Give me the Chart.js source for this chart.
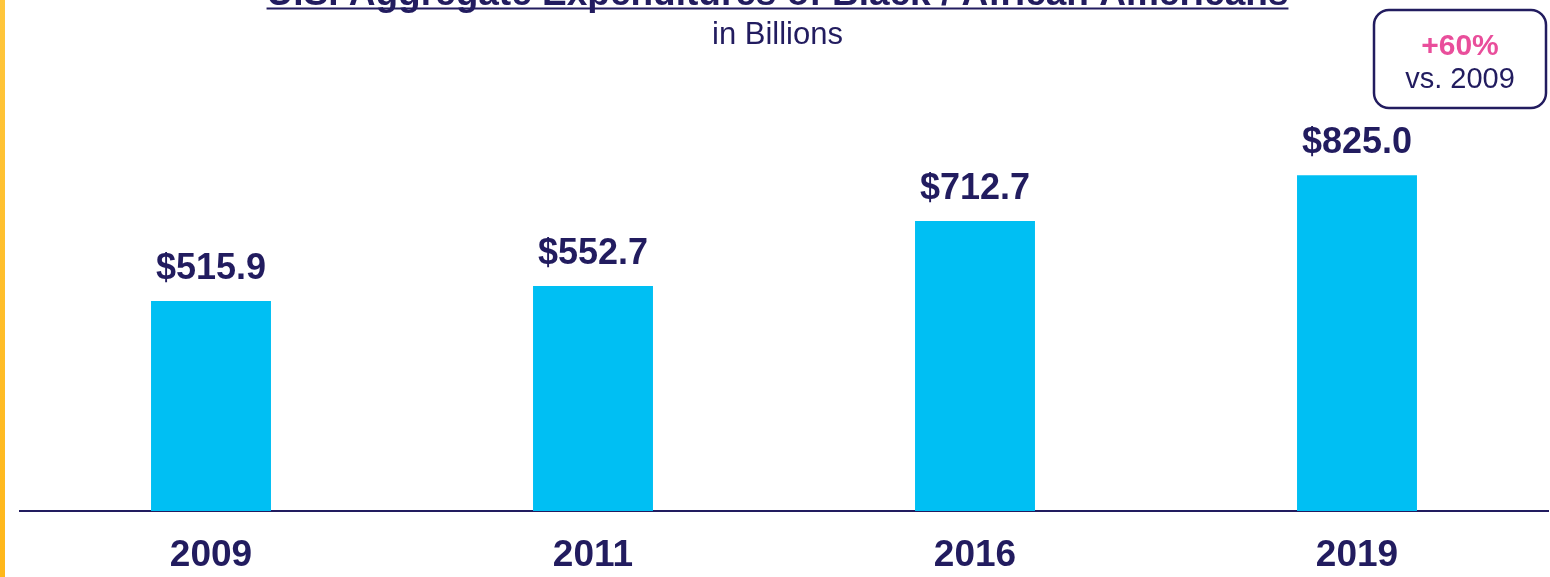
<!DOCTYPE html>
<html>
<head>
<meta charset="utf-8">
<title>Aggregate Expenditures</title>
<script src="https://cdn.jsdelivr.net/npm/chart.js@4"></script>
<style>
  html, body { margin: 0; padding: 0; background: #fff; }
  #wrap { position: relative; width: 1550px; height: 577px; overflow: hidden; }
  #stripe { position: absolute; left: 0; top: 0; width: 5px; height: 577px; background: linear-gradient(#FFC63C, #FFB71A); }
  canvas { position: absolute; left: 0; top: 0; }
</style>
</head>
<body>
<div id="wrap">
  <canvas id="chart" width="1550" height="577"></canvas>
  <div id="stripe"></div>
</div>
<script>
const years = ['2009', '2011', '2016', '2019']
const spending = [515.9, 552.7, 712.7, 825.0] // billions of dollars
const chartTitle = 'U.S. Aggregate Expenditures of Black / African Americans'
const chartSubtitle = 'in Billions'
const growthText = '+60%'
const growthBase = 'vs. 2009'

const NAVY = '#221C5F'
const FONT = '"Liberation Sans", Arial, sans-serif'

// title, subtitle, growth callout and the value labels over the bars
const annotations = {
  id: 'annotations',
  afterDatasetsDraw(chart) {
    const ctx = chart.ctx
    ctx.save()

    // title sits mostly above the top edge, underlined
    ctx.fillStyle = NAVY
    ctx.textAlign = 'center'
    ctx.textBaseline = 'alphabetic'
    ctx.font = 'bold 37px ' + FONT
    ctx.fillText(chartTitle, 777.5, 5)
    const w = ctx.measureText(chartTitle).width
    ctx.strokeStyle = NAVY
    ctx.lineWidth = 2
    ctx.beginPath()
    ctx.moveTo(777.5 - w / 2, 8.5)
    ctx.lineTo(777.5 + w / 2, 8.5)
    ctx.stroke()

    ctx.font = '31px ' + FONT
    ctx.fillText(chartSubtitle, 777.5, 44)

    // callout box
    ctx.lineWidth = 2.5
    ctx.beginPath()
    ctx.roundRect(1374, 10, 172, 98, 15)
    ctx.stroke()
    ctx.fillStyle = '#E94E9B'
    ctx.font = 'bold 30px ' + FONT
    ctx.fillText(growthText, 1460, 55)
    ctx.fillStyle = NAVY
    ctx.font = '29px ' + FONT
    ctx.fillText(growthBase, 1460, 88)

    // bar values
    ctx.font = 'bold 36px ' + FONT
    chart.getDatasetMeta(0).data.forEach((bar, i) => {
      ctx.fillText('$' + spending[i].toFixed(1), bar.x, bar.y - 22)
    })
    ctx.restore()
  }
}

new Chart(document.getElementById('chart'), {
  type: 'bar',
  data: {
    labels: years,
    datasets: [{
      data: spending,
      backgroundColor: '#00BFF3',
      barPercentage: 0.314,
      categoryPercentage: 1
    }]
  },
  options: {
    responsive: false,
    animation: false,
    // the x axis reserves its tick padding twice, so the bottom pad is pulled in
    layout: { padding: { top: 104, left: 20, right: 2, bottom: -23.7 } },
    plugins: {
      legend: { display: false },
      tooltip: { enabled: false }
    },
    scales: {
      x: {
        grid: { display: false, drawTicks: false },
        border: { display: true, color: NAVY, width: 2 },
        ticks: {
          color: NAVY,
          padding: 24.5,
          font: { family: FONT, size: 37, weight: 'bold', lineHeight: 1.1 }
        }
      },
      y: { display: false, min: 0, max: 1000 }
    }
  },
  plugins: [annotations]
})
</script>
</body>
</html>
